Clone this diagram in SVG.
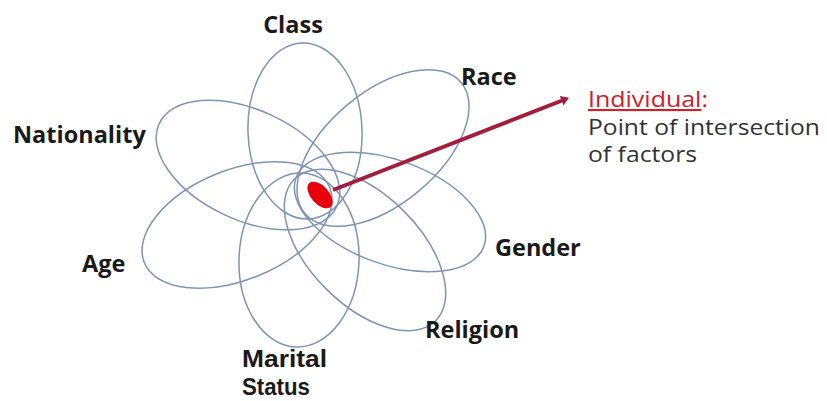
<svg xmlns="http://www.w3.org/2000/svg" width="827" height="401" viewBox="0 0 827 401">
<style>
.petal{fill:none;stroke:#7f93b5;stroke-width:1.5}
.lbl{font-family:"Open Sans","Liberation Sans",sans-serif;font-weight:bold;font-size:23.5px;fill:#1a1a1a}
.lbl2{font-family:"Liberation Sans",sans-serif;font-weight:bold;font-size:23px;fill:#1a1a1a}
.note{font-family:"Open Sans","Liberation Sans",sans-serif;font-size:21px;fill:#333}
</style>
<defs>
<marker id="ah" markerWidth="4" markerHeight="4" refX="1.2" refY="2" orient="auto" markerUnits="strokeWidth">
<path d="M0,0.7 L2,2 L0,3.3 z" fill="#a31d3c"/>
</marker>
</defs>
<rect width="827" height="401" fill="#fff"/>
<g id="petals">
<ellipse id="class" class="petal" cx="305" cy="131" rx="88" ry="57" transform="rotate(-92 305 131)"/>
<ellipse id="race" class="petal" cx="383" cy="148" rx="102" ry="56" transform="rotate(-40 383 148)"/>
<ellipse id="gender" class="petal" cx="390" cy="212" rx="100" ry="52" transform="rotate(20 390 212)"/>
<ellipse id="religion" class="petal" cx="365" cy="250" rx="100" ry="55" transform="rotate(45 365 250)"/>
<ellipse id="marital" class="petal" cx="299" cy="260" rx="87" ry="60" transform="rotate(92 299 260)"/>
<ellipse id="age" class="petal" cx="237" cy="225" rx="100" ry="55" transform="rotate(-22 237 225)"/>
<ellipse id="nationality" class="petal" cx="248" cy="165" rx="98" ry="55" transform="rotate(25 248 165)"/>
</g>
<g id="connectors">
<line x1="333" y1="190" x2="566" y2="99" stroke="#a31d3c" stroke-width="4" marker-end="url(#ah)"/>
</g>
<g id="individual">
<ellipse cx="320" cy="195" rx="16" ry="9" fill="#e8000b" transform="rotate(48 320 195)"/>
</g>
<g id="labels">
<text class="lbl" x="293" y="33" text-anchor="middle">Class</text>
<text class="lbl" x="461" y="85">Race</text>
<text class="lbl" x="13" y="143">Nationality</text>
<text class="lbl" x="495" y="256">Gender</text>
<text class="lbl" x="82" y="272">Age</text>
<text class="lbl" x="425" y="338">Religion</text>
<text class="lbl2" x="242" y="367" textLength="85" lengthAdjust="spacingAndGlyphs">Marital</text>
<text class="lbl2" x="242" y="395" textLength="68" lengthAdjust="spacingAndGlyphs">Status</text>
</g>
<g id="note">
<text class="note" x="588" y="107" textLength="120" lengthAdjust="spacingAndGlyphs"><tspan fill="#d0202a" text-decoration="underline">Individual</tspan><tspan fill="#d0202a">:</tspan></text>
<text class="note" x="588" y="135" textLength="232" lengthAdjust="spacingAndGlyphs">Point of intersection</text>
<text class="note" x="588" y="162" textLength="109" lengthAdjust="spacingAndGlyphs">of factors</text>
</g>
</svg>
